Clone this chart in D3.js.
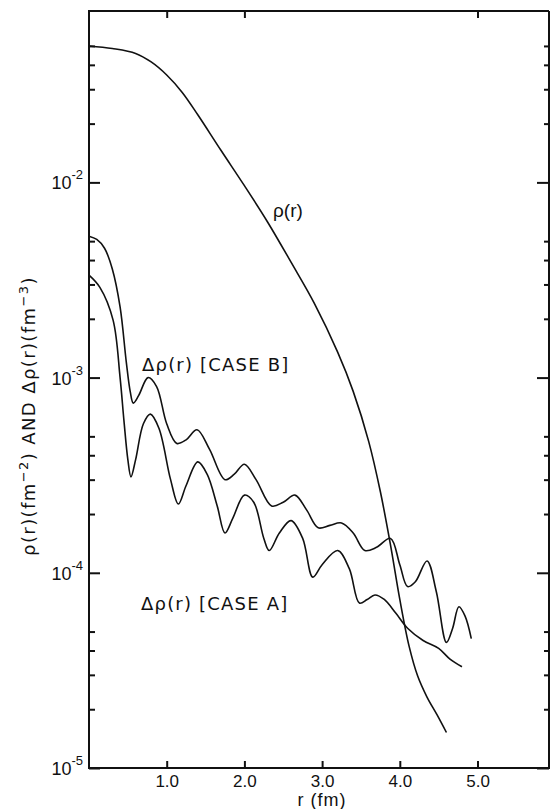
<!DOCTYPE html>
<html>
<head>
<meta charset="utf-8">
<script src="https://cdn.jsdelivr.net/npm/d3@7"></script>
<style>
  body { margin: 0; background: #fff; }
  text { font-family: "Liberation Sans", "DejaVu Sans", sans-serif; fill: #111; }
  .wide { font-family: "DejaVu Sans", sans-serif; }
</style>
</head>
<body>
<script>
// Density and its error bands, log scale
var width = 551;
var height = 809;

var margin = {
  top: 11,
  left: 89,
  right: 2,
  bottom: 41
};

// rho(r), fm^-2
var rhoR   = [0, 0.3, 0.6, 0.8, 1.0, 1.2, 1.4, 1.7, 2.0, 2.3, 2.6, 2.9, 3.2, 3.4, 3.6, 3.75, 3.88, 4.0, 4.12, 4.23, 4.35, 4.48, 4.6];
var rhoVal = [0.0500, 0.0485, 0.0458, 0.0414, 0.0355, 0.0289, 0.0222, 0.01456, 0.00962, 0.00625, 0.0039, 0.0024, 0.00135,
              0.00085, 0.00047, 0.00026, 0.000139, 0.000073, 0.000042, 0.0000296, 0.0000231, 0.0000187, 0.0000152];

// delta rho, case B
var caseBR   = [0, 0.1, 0.2, 0.3, 0.4, 0.48, 0.53, 0.57, 0.64, 0.76, 0.87, 1.0, 1.13, 1.25, 1.39, 1.55, 1.75, 1.87, 2.0, 2.15, 2.35,
                2.5, 2.65, 2.8, 2.95, 3.1, 3.25, 3.4, 3.55, 3.7, 3.88, 4.0, 4.1, 4.2, 4.35, 4.47, 4.6, 4.68, 4.76, 4.84, 4.92];
var caseBVal = [5.3e-3, 5.1e-3, 4.6e-3, 3.6e-3, 2.3e-3, 1.2e-3, 8.5e-4, 7.4e-4, 8.1e-4, 1.0e-3, 9.0e-4, 5.8e-4, 4.6e-4, 4.8e-4, 5.4e-4,
                4.3e-4, 3.0e-4, 3.2e-4, 3.6e-4, 3.0e-4, 2.2e-4, 2.3e-4, 2.5e-4, 2.1e-4, 1.7e-4, 1.75e-4, 1.8e-4, 1.6e-4, 1.3e-4,
                1.35e-4, 1.5e-4, 1.1e-4, 8.5e-5, 9.0e-5, 1.15e-4, 8.0e-5, 4.4e-5, 5.2e-5, 6.7e-5, 6.0e-5, 4.6e-5];

// delta rho, case A
var caseAR   = [0, 0.14, 0.31, 0.4, 0.45, 0.5, 0.54, 0.6, 0.7, 0.79, 0.9, 1.05, 1.15, 1.25, 1.4, 1.52, 1.65, 1.75, 1.85, 2.0,
                2.12, 2.25, 2.32, 2.45, 2.6, 2.75, 2.88, 3.0, 3.2, 3.35, 3.48, 3.58, 3.68, 3.8, 3.95, 4.1, 4.3, 4.5, 4.65, 4.8];
var caseAVal = [3.35e-3, 2.9e-3, 1.97e-3, 1.0e-3, 6.0e-4, 3.8e-4, 3.1e-4, 3.8e-4, 5.8e-4, 6.5e-4, 5.5e-4, 3.0e-4, 2.25e-4, 2.8e-4,
                3.7e-4, 3.2e-4, 2.2e-4, 1.6e-4, 1.9e-4, 2.5e-4, 2.3e-4, 1.5e-4, 1.3e-4, 1.6e-4, 1.85e-4, 1.5e-4, 9.5e-5, 1.1e-4,
                1.3e-4, 1.05e-4, 7.0e-5, 7.3e-5, 7.7e-5, 7.3e-5, 6.2e-5, 5.2e-5, 4.5e-5, 4.1e-5, 3.6e-5, 3.3e-5];

// ticks
var xTicks = [1, 2, 3, 4, 5];
var xTopTicks = [1, 2, 5];
var yMajor = [1e-2, 1e-3, 1e-4, 1e-5];
var yMinor = [2e-5, 3e-5, 4e-5, 5e-5, 2e-4, 3e-4, 4e-4, 5e-4, 2e-3, 3e-3, 4e-3, 5e-3, 2e-2, 3e-2, 4e-2, 5e-2];
var yExp = {"0.01": "-2", "0.001": "-3", "0.0001": "-4", "0.00001": "-5"};

var svg = d3.select("body")
  .append("svg")
  .attr("width", width)
  .attr("height", height);

var xScale = d3.scaleLinear()
  .domain([0, 5.92])
  .range([margin.left, width - margin.right]);

var yScale = d3.scaleLog()
  .domain([1e-5, 0.0755])
  .range([height - margin.bottom, margin.top]);

var x0 = margin.left, x1 = width - margin.right;
var y0 = height - margin.bottom, y1 = margin.top;

// frame
svg.append("path")
  .attr("d", "M" + x1 + "," + y1 + "H" + x0 + "V" + y0 + "H" + x1 + "V" + y1)
  .attr("fill", "none")
  .attr("stroke", "#111")
  .attr("stroke-width", 2);

function tickStyle(g) {
  g.select(".domain").remove();
  g.selectAll("line").attr("stroke", "#111").attr("stroke-width", 2);
}

// bottom ticks (inward)
svg.append("g")
  .attr("transform", "translate(0," + y0 + ")")
  .call(d3.axisBottom(xScale).tickValues(xTicks).tickSize(-7).tickFormat(d3.format(".1f")).tickPadding(7))
  .call(tickStyle)
  .call(function(g) {
    g.selectAll("text").attr("font-size", 17).attr("fill", "#111");
  });

// top ticks
svg.append("g")
  .attr("transform", "translate(0," + y1 + ")")
  .call(d3.axisTop(xScale).tickValues(xTopTicks).tickSize(-7).tickFormat(""))
  .call(tickStyle);

// left axis
svg.append("g")
  .attr("transform", "translate(" + x0 + ",0)")
  .call(d3.axisLeft(yScale).tickValues(yMajor).tickSize(-11).tickFormat(""))
  .call(tickStyle);
svg.append("g")
  .attr("transform", "translate(" + x0 + ",0)")
  .call(d3.axisLeft(yScale).tickValues(yMinor).tickSize(-6).tickFormat(""))
  .call(tickStyle);

// right axis
svg.append("g")
  .attr("transform", "translate(" + x1 + ",0)")
  .call(d3.axisRight(yScale).tickValues(yMajor).tickSize(-12).tickFormat(""))
  .call(tickStyle);
svg.append("g")
  .attr("transform", "translate(" + x1 + ",0)")
  .call(d3.axisRight(yScale).tickValues(yMinor).tickSize(-5).tickFormat(""))
  .call(tickStyle);

// y tick labels 10^-n
var yLab = svg.append("g").selectAll("text")
  .data(yMajor)
  .enter()
  .append("text")
    .attr("x", x0 - 6)
    .attr("y", function(d) { return yScale(d) + 7; })
    .attr("text-anchor", "end")
    .attr("font-size", 18);
yLab.append("tspan").text("10");
yLab.append("tspan")
  .attr("dy", -10)
  .attr("font-size", 13)
  .text(function(d) { return yExp[String(d)]; });

// axis titles
svg.append("text")
  .attr("x", xScale(3.0))
  .attr("y", 806)
  .attr("text-anchor", "middle")
  .attr("font-size", 18)
  .attr("letter-spacing", 1)
  .text("r (fm)");

var yTitle = svg.append("text")
  .attr("class", "wide")
  .attr("transform", "translate(35,416) rotate(-90)")
  .attr("text-anchor", "middle")
  .attr("font-size", 18)
  .attr("letter-spacing", 1.4);
yTitle.append("tspan").text("ρ(r)(fm");
yTitle.append("tspan").attr("dy", -7).attr("font-size", 13).text("−2");
yTitle.append("tspan").attr("dy", 7).text(") AND Δρ(r)(fm");
yTitle.append("tspan").attr("dy", -7).attr("font-size", 13).text("−3");
yTitle.append("tspan").attr("dy", 7).text(")");

// curves
var line = d3.line()
  .x(function(d) { return xScale(d[0]); })
  .y(function(d) { return yScale(d[1]); })
  .curve(d3.curveCatmullRom.alpha(0.5));

var series = [
  d3.zip(rhoR, rhoVal),
  d3.zip(caseBR, caseBVal),
  d3.zip(caseAR, caseAVal)
];

svg.selectAll(".curve")
  .data(series)
  .enter()
  .append("path")
    .attr("class", "curve")
    .attr("d", line)
    .attr("fill", "none")
    .attr("stroke", "#111")
    .attr("stroke-width", 1.6);

// curve labels
svg.append("text")
  .attr("x", 273).attr("y", 217)
  .attr("font-size", 19)
  .text("ρ(r)");
svg.append("text")
  .attr("class", "wide")
  .attr("x", 142).attr("y", 371)
  .attr("font-size", 18)
  .attr("letter-spacing", 1.2)
  .text("Δρ(r) [CASE B]");
svg.append("text")
  .attr("class", "wide")
  .attr("x", 141).attr("y", 610)
  .attr("font-size", 18)
  .attr("letter-spacing", 1.2)
  .text("Δρ(r) [CASE A]");
</script>
</body>
</html>
